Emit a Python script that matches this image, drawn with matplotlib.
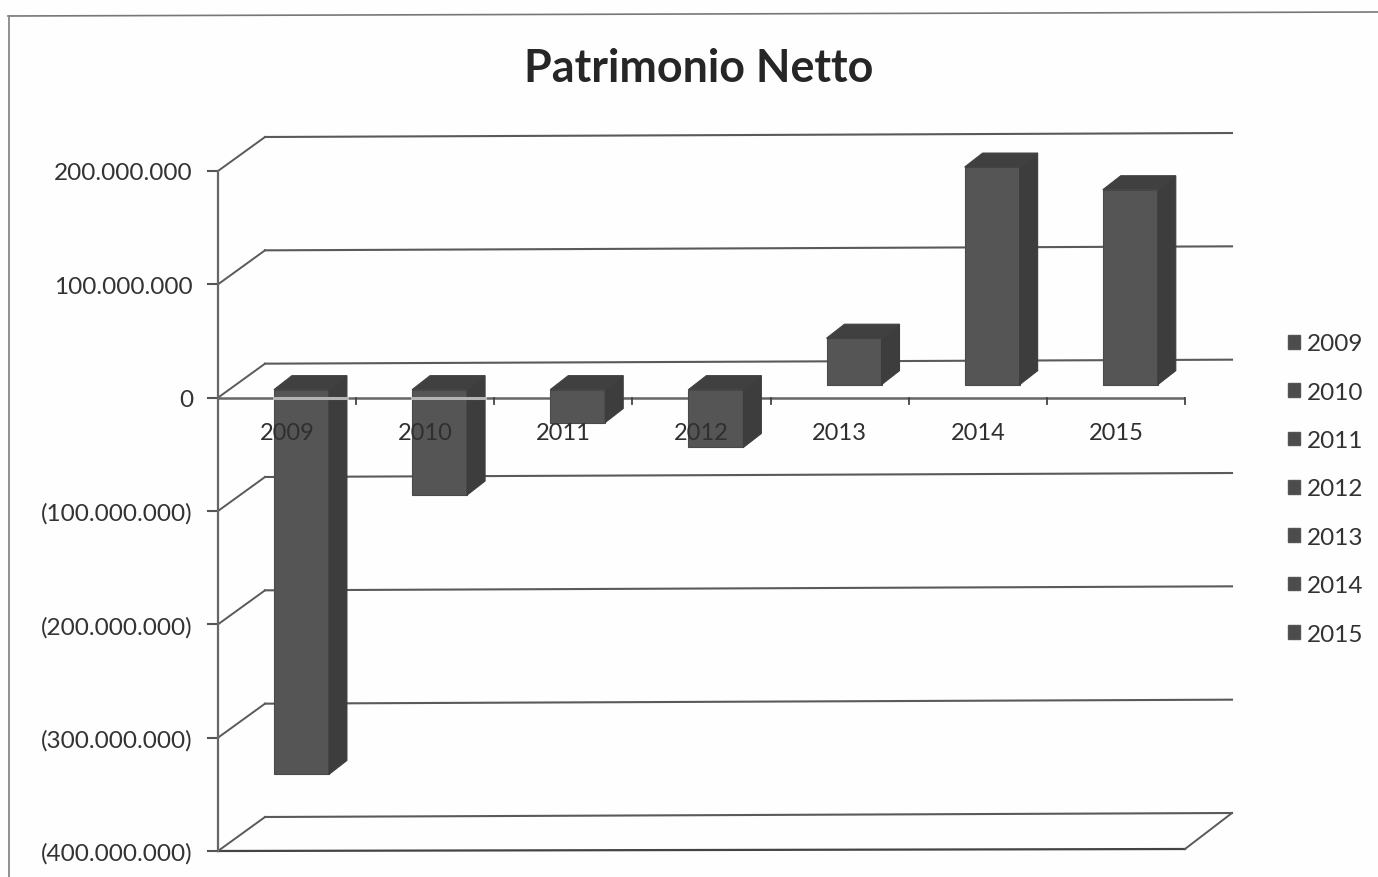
import matplotlib
matplotlib.use("Agg")
import matplotlib.pyplot as plt
from matplotlib.lines import Line2D
from matplotlib.patches import Polygon, Patch

years = ["2009", "2010", "2011", "2012", "2013", "2014", "2015"]
patrimonio = [-339.5e6, -93e6, -29e6, -51e6, 41e6, 192e6, 172e6]
y_ticks = [200e6, 100e6, 0, -100e6, -200e6, -300e6, -400e6]
y_labels = ["200.000.000", "100.000.000", "0", "(100.000.000)", "(200.000.000)",
            "(300.000.000)", "(400.000.000)"]

W, H = 1378, 878
plt.rcParams["font.family"] = ["Lato", "DejaVu Sans"]

fig = plt.figure(figsize=(W / 100, H / 100), dpi=100, facecolor="#fefefe")
ax = fig.add_axes([218 / W, 1 - 852 / H, (1185 - 218) / W, (852 - 172) / H])
ax.set_xlim(0, 7)
ax.set_ylim(-400e6, 200e6)
ax.patch.set_alpha(0)
for s in ax.spines.values():
    s.set_visible(False)
ax.set_xticks([])
ax.set_yticks([])

# one pixel in data units, the 3d look is only offsets
px_x = 7 / (1185 - 218)
px_y = 600e6 / (852 - 172)
wall_dx = 47 * px_x
wall_dy = 34 * px_y
grid_col = "#5a5a5a"

# back wall lines + the slanted bits on the left
for v in y_ticks:
    tilt = 4 * px_y
    if v == -400e6:
        ax.plot([0, 7], [v, v + 2 * px_y], color="#444444", lw=1.6, zorder=1, clip_on=False)
    ax.plot([0, wall_dx], [v, v + wall_dy], color=grid_col, lw=1.4, zorder=1, clip_on=False)
    ax.plot([wall_dx, 7 + wall_dx], [v + wall_dy, v + wall_dy + tilt], color=grid_col, lw=1.5,
            zorder=1, clip_on=False)
    ax.plot([-10 * px_x, 0], [v, v], color="#555555", lw=1.5, zorder=1, clip_on=False)
    ax.text(-25 * px_x, v - 2 * px_y, y_labels[y_ticks.index(v)], ha="right", va="center",
            fontsize=17.6, color="#333333")
ax.plot([7, 7 + wall_dx], [-400e6 + 2 * px_y, -400e6 + wall_dy + 4 * px_y], color=grid_col, lw=1.4,
        zorder=1, clip_on=False)

# value axis and zero line
ax.plot([0, 0], [-400e6, 200e6], color="#666666", lw=1.6, zorder=1, clip_on=False)
ax.plot([0, 7], [0, 0], color="#666666", lw=1.8, zorder=2)
for i in range(1, 8):
    ax.plot([i, i], [0, -6 * px_y], color="#444444", lw=1.3, zorder=2, clip_on=False)

# bars
bar_left = 0.405
bar_w = 0.398
bar_dx = 18 * px_x
bar_dy = 14 * px_y
for i, val in enumerate(patrimonio):
    base = (13 if val > 0 else 8) * px_y
    x0 = i + bar_left
    x1 = x0 + bar_w
    y0, y1 = base, base + val
    hi, lo = max(y0, y1), min(y0, y1)
    ax.add_patch(Polygon([(x0, lo), (x1, lo), (x1, hi), (x0, hi)], fc="#555555", ec="#4a4a4a",
                         lw=0.8, zorder=3, clip_on=False))
    ax.add_patch(Polygon([(x1, lo), (x1 + bar_dx, lo + bar_dy), (x1 + bar_dx, hi + bar_dy), (x1, hi)],
                         fc="#3d3d3d", ec="#3d3d3d", lw=0.8, zorder=3, clip_on=False))
    ax.add_patch(Polygon([(x0, hi), (x0 + bar_dx, hi + bar_dy), (x1 + bar_dx, hi + bar_dy), (x1, hi)],
                         fc="#404040", ec="#404040", lw=0.8, zorder=3, clip_on=False))
    # axis shows through the tall negative bars as a pale stripe
    if val < -60e6:
        ax.plot([x0, x1 + bar_dx], [0, 0], color="#b4b4b4", lw=2.2, zorder=4)
    ax.text(i + 0.5, -31e6, years[i], ha="center", va="center", fontsize=17, color="#2f2f2f", zorder=5)

handles = [Patch(fc="#4c4c4c", ec="#555555", label=y) for y in years]
fig.legend(handles=handles, loc="center left", bbox_to_anchor=(1288 / W, 1 - 490 / H), frameon=False,
           fontsize=17.5, handlelength=0.5, handleheight=0.5, handletextpad=0.27, labelspacing=1.125,
           labelcolor="#333333", borderpad=0, borderaxespad=0)

fig.text(699 / W, 1 - 69 / H, "Patrimonio Netto", ha="center", va="center", fontsize=32.3,
         fontweight="bold", color="#262626")

# edge of the chart frame on the scan
fig.add_artist(Line2D([8 / W, 1], [1 - 17 / H, 1 - 13 / H], color="#777777", lw=1.2))
fig.add_artist(Line2D([9 / W, 9 / W], [1 - 17 / H, 0], color="#888888", lw=1.3))

fig.savefig("out.png", dpi=100, facecolor=fig.get_facecolor())
